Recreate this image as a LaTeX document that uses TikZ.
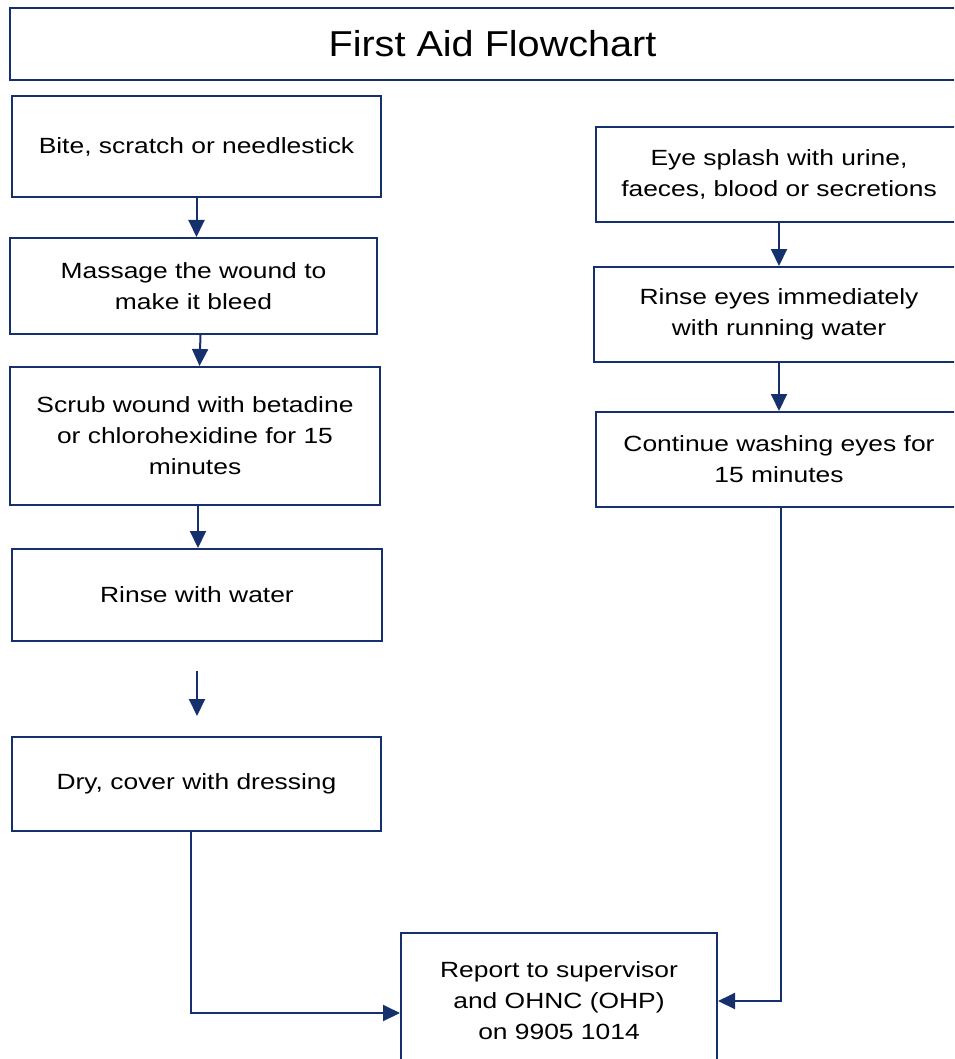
\documentclass[tikz,border=0pt]{standalone}
\usepackage{fontspec}
\setmainfont{Liberation Sans}[FakeStretch=1.2]
\newfontfamily\titlefont{Liberation Sans}[FakeStretch=1.1]
\usetikzlibrary{arrows.meta}
\definecolor{navy}{RGB}{22,48,110}

\begin{document}
\begin{tikzpicture}
        [x=1pt,y=-1pt,
        box/.style={draw=navy,line width=2pt,rectangle,align=center,inner sep=0,
          font=\fontsize{22}{31}\selectfont},
        arr/.style={draw=navy,line width=2pt,-{Triangle[length=17pt,width=16pt]}}]

        \clip (0,0) rectangle (954,1059);

        \node[box,minimum width=965pt,minimum height=72pt,font=\titlefont\fontsize{36}{42}\selectfont] (title) at (492.5,44) {First Aid Flowchart};

        \node[box,minimum width=369pt,minimum height=101pt] (bite) at (196.5,146.5) {Bite, scratch or needlestick};
        \node[box,minimum width=367pt,minimum height=96pt] (massage) at (193.5,286) {Massage the wound to\\make it bleed};
        \node[box,minimum width=370pt,minimum height=138pt] (scrub) at (195,436) {Scrub wound with betadine\\or chlorohexidine for 15\\minutes};
        \node[box,minimum width=370pt,minimum height=92pt] (rinse) at (197,595) {Rinse with water};
        \node[box,minimum width=369pt,minimum height=94pt] (dry) at (196.5,784) {Dry, cover with dressing};

        \node[box,minimum width=366pt,minimum height=95pt] (eye) at (779,174.5) {Eye splash with urine,\\faeces, blood or secretions};
        \node[box,minimum width=370pt,minimum height=95pt] (rinseeye) at (779,314.5) {Rinse eyes immediately\\with running water};
        \node[box,minimum width=366pt,minimum height=95pt] (cont) at (779,459.5) {Continue washing eyes for\\15 minutes};

        \node[box,minimum width=316pt,minimum height=136pt] (report) at (559,1001) {Report to supervisor\\and OHNC (OHP)\\on 9905 1014};

        \coordinate (gapTop) at (197,671);
        \coordinate (gapEnd) at (197,716);

        \draw[arr] (bite.south) -- (bite.south |- massage.north);
        \draw[arr] ([xshift=7pt]massage.south) -- ([xshift=4.5pt]scrub.north);
        \draw[arr] ([xshift=3pt]scrub.south) -- ([xshift=3pt]scrub.south |- rinse.north);
        \draw[arr] (gapTop) -- (gapEnd);
        \draw[arr] ([xshift=-5.5pt]dry.south) |- ([yshift=-12pt]report.west);

        \draw[arr] (eye.south) -- (eye.south |- rinseeye.north);
        \draw[arr] (rinseeye.south) -- (rinseeye.south |- cont.north);
        \draw[arr] ([xshift=2pt]cont.south) |- (report.east);
      \end{tikzpicture}
\end{document}
